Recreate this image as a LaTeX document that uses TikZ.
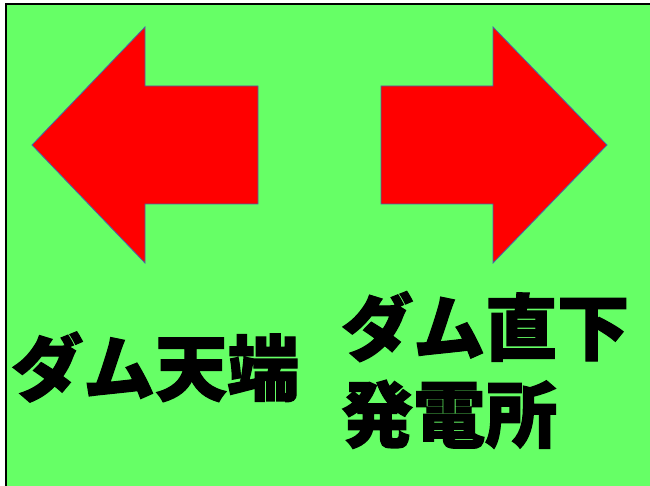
\documentclass[tikz,border=0pt]{standalone}
\usepackage{fontspec}
\newfontfamily\cjk{Noto Sans CJK JP}[BoldFeatures={FakeBold=1.6}]
\usepackage{tikz}

\definecolor{bggreen}{RGB}{102,255,102}
\definecolor{arrowred}{RGB}{255,0,0}
\definecolor{edgeblue}{RGB}{68,104,170}

\begin{document}
\begin{tikzpicture}[x=1pt,y=-1pt,
				arrow shape/.style={fill=arrowred,draw=edgeblue,line width=0.8pt,line join=miter},
				label text/.style={font=\cjk\bfseries\fontsize{72}{87}\selectfont,inner sep=0pt,align=left}]
				
				\useasboundingbox (0,0) rectangle (650,486);
				\fill[bggreen] (5.5,4.5) rectangle (650,486);
				\draw[line width=2pt] (5.5,486) -- (5.5,4.5) -- (650,4.5);
				
				% left arrow
				\draw[arrow shape] (32,145) -- (145,27) -- (145,86) -- (258,86) -- (258,204) -- (145,204) -- (145,263) -- cycle;
				% right arrow
				\draw[arrow shape] (607,145) -- (493,27) -- (493,86) -- (381,86) -- (381,204) -- (493,204) -- (493,263) -- cycle;
				
				\node[label text,anchor=west] (tenba) at (11,367) {ダム天端};
				\node[label text,anchor=west] (hatsuden) at (341,370) {ダム直下\\発電所};
				
\end{tikzpicture}
\end{document}
